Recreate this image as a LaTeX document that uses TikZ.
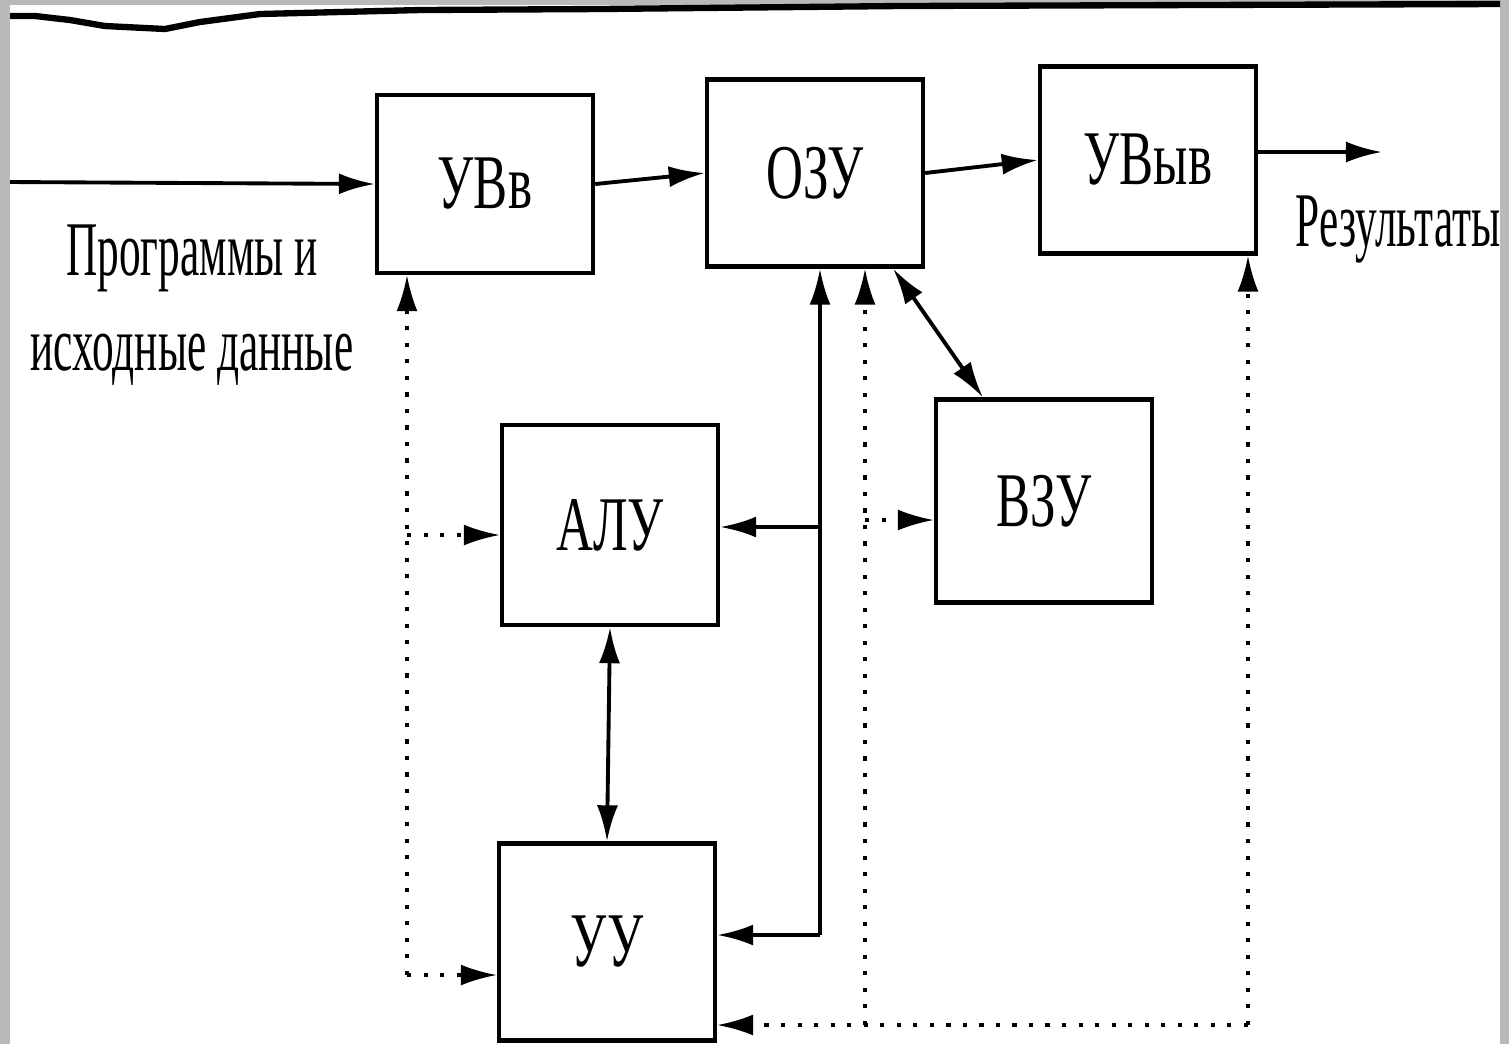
\documentclass[tikz,border=0pt]{standalone}
\usepackage{fontspec}
\setmainfont{Liberation Serif}[FakeStretch=0.66]
\newfontfamily\lblfont{Liberation Serif}[FakeStretch=0.56]
\usepackage{tikz}
\usetikzlibrary{arrows.meta, positioning}

\begin{document}
\begin{tikzpicture}[
x=0.01cm, y=-0.01cm,
every node/.style={font=\fontsize{22}{27}\selectfont},
box/.style={draw, rectangle, line width=1.2pt, minimum width=2.16cm, inner sep=0pt},
lbl/.style={font=\lblfont\fontsize{22}{27}\selectfont},
arrow/.style={-{Latex[length=3.6mm, width=2.1mm]}, line width=1.1pt},
biarrow/.style={{Latex[length=3.6mm, width=2.1mm]}-{Latex[length=3.6mm, width=2.1mm]}, line width=1.1pt},
ctrl/.style={-{Latex[length=3.6mm, width=2.1mm]}, line width=0.9pt, dash pattern=on 1.2pt off 3.5pt}
]

% scanned page edge
\useasboundingbox (0,0) rectangle (1509,1044);
\fill[gray!55] (0,0) rectangle (1509,1044);
\fill[white] (10,5) rectangle (1500,1044);
\draw[line width=1.8pt] (10,16) -- (35,16) -- (70,20) -- (105,26) -- (165,29) -- (200,22) -- (260,14) -- (420,10) -- (600,9) -- (900,6) -- (1500,4);

% blocks
\node[box, minimum height=1.78cm] (uvv) at (485,184) {УВв};
\node[box, minimum height=1.87cm] (ozu) at (815,173) {ОЗУ};
\node[box, minimum height=1.87cm] (uvyv) at (1148,160) {УВыв};
\node[box, minimum height=2.00cm] (alu) at (610,525) {АЛУ};
\node[box, minimum height=2.03cm] (vzu) at (1044,501) {ВЗУ};
\node[box, minimum height=1.97cm] (uu) at (607,942) {УУ};

% labels
\node[lbl, align=center] (prog) at (192,305) {Программы и\\исходные данные};
\node[lbl] (res) at (1398,230) {Результаты};

% data flow
\coordinate (in) at (10,182);
\coordinate (out) at (1382,152);
\draw[arrow] (in) -- (uvv.west);
\draw[arrow] (uvv.east) -- (ozu.west);
\draw[arrow] (ozu.east) -- (uvyv.west);
\draw[arrow] (uvyv.east |- out) -- (out);

% memory bus
\coordinate (busT) at (820,527);
\coordinate (busB) at (820,935);
\draw[arrow] (busB) -- (busB |- ozu.south);
\draw[arrow] (busT) -- (busT -| alu.east);
\draw[arrow] (busB) -- (busB -| uu.east);
\draw[biarrow] (alu.south) -- (uu.north);
\draw[biarrow] ([xshift=-0.32cm]ozu.south east) -- ([xshift=0.49cm]vzu.north west);

% control lines
\coordinate (cl) at (407,975);
\coordinate (clA) at (407,535);
\coordinate (cr) at (1248,1025);
\coordinate (cm) at (865,1025);
\coordinate (cmV) at (865,520);
\draw[ctrl] (cl) -- (cl |- uvv.south);
\draw[ctrl] (clA) -- (clA -| alu.west);
\draw[ctrl] (cl) -- (cl -| uu.west);
\draw[ctrl] (cr) -- (cr -| uu.east);
\draw[ctrl] (cr) -- (cr |- uvyv.south);
\draw[ctrl] (cm) -- (cm |- ozu.south);
\draw[ctrl] (cmV) -- (cmV -| vzu.west);

\end{tikzpicture}
\end{document}
